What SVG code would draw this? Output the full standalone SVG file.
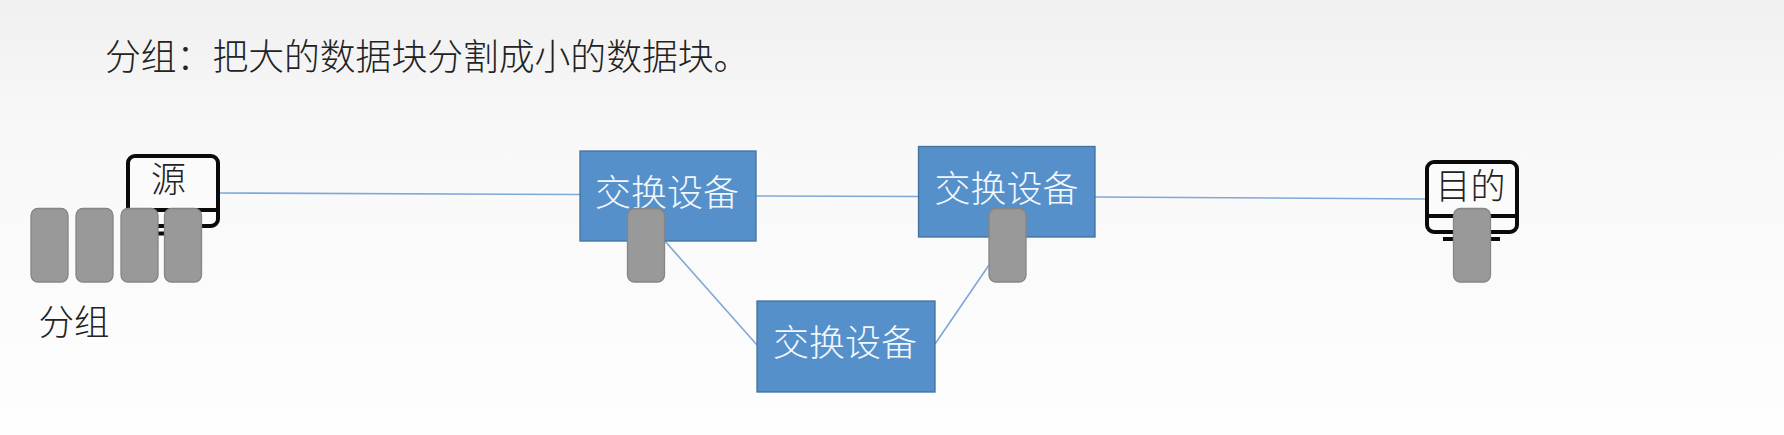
<svg xmlns="http://www.w3.org/2000/svg" width="1784" height="435" viewBox="0 0 1784 435">
<style>
text{font-family:"Noto Sans CJK SC","Liberation Sans",sans-serif;font-size:35px;font-weight:300}
.t{fill:#222}
.w{fill:#f2f7fc;text-anchor:middle;font-size:36px}
.c{text-anchor:middle}
.sw{fill:#5590cb;stroke:#41719c;stroke-width:1.3}
.pk{fill:#999;stroke:#858585;stroke-width:1.3}
.mon{fill:#fbfbfb;stroke:#0a0a0a;stroke-width:4}
.bar{stroke:#0a0a0a;stroke-width:4;fill:none}
.ln{stroke:#7fa8d6;stroke-width:1.6;fill:none}
</style>
<defs>
<linearGradient id="bg" x1="0" y1="0" x2="0" y2="1">
<stop offset="0" stop-color="#f0f0f0"/>
<stop offset="0.3" stop-color="#f8f8f8"/>
<stop offset="1" stop-color="#fefefe"/>
</linearGradient>
</defs>
<rect width="1784" height="435" fill="url(#bg)"/>
<g id="connectors">
<line class="ln" x1="219" y1="193" x2="580" y2="194.500"/>
<line class="ln" x1="756" y1="196" x2="918" y2="196.500"/>
<line class="ln" x1="1095" y1="197" x2="1425" y2="199"/>
<line class="ln" x1="664" y1="240" x2="757" y2="345"/>
<line class="ln" x1="935" y1="344" x2="989" y2="265"/>
</g>
<g id="title"><text class="t" x="105" y="70" style="font-size:35.800px">分组：把大的数据块分割成小的数据块。</text></g>
<g id="source">
<rect class="mon" x="128" y="156" width="90" height="70" rx="7"/>
<line class="bar" x1="128" y1="210" x2="218" y2="210"/>
<line class="bar" x1="150" y1="233.500" x2="197" y2="233.500"/>
<text class="c t" x="168.500" y="192">源</text>
</g>
<g id="destination">
<rect class="mon" x="1427" y="162" width="90" height="70" rx="7"/>
<line class="bar" x1="1427" y1="216" x2="1517" y2="216"/>
<line class="bar" x1="1443" y1="239" x2="1500" y2="239"/>
<text class="c t" x="1470.500" y="199">目的</text>
</g>
<g id="switch1">
<rect class="sw" x="580" y="151" width="176" height="90"/>
<text class="w" x="667" y="206">交换设备</text>
</g>
<g id="switch2">
<rect class="sw" x="918.500" y="146.500" width="176.500" height="90.500"/>
<text class="w" x="1006.500" y="202">交换设备</text>
</g>
<g id="switch3">
<rect class="sw" x="757" y="301" width="178" height="91"/>
<text class="w" x="845" y="356">交换设备</text>
</g>
<g id="packets">
<rect class="pk" x="31" y="208.500" width="37" height="73.500" rx="7"/>
<rect class="pk" x="76" y="208.500" width="37" height="73.500" rx="7"/>
<rect class="pk" x="121" y="208.500" width="37" height="73.500" rx="7"/>
<rect class="pk" x="164.500" y="208.500" width="37" height="73.500" rx="7"/>
<rect class="pk" x="627.500" y="208.500" width="37" height="73.500" rx="7"/>
<rect class="pk" x="989" y="208.500" width="37" height="73.500" rx="7"/>
<rect class="pk" x="1453.500" y="208.500" width="37" height="73.500" rx="7"/>
</g>
<g id="packet-label"><text class="t" x="38.500" y="335" style="font-size:35.500px">分组</text></g>
</svg>
